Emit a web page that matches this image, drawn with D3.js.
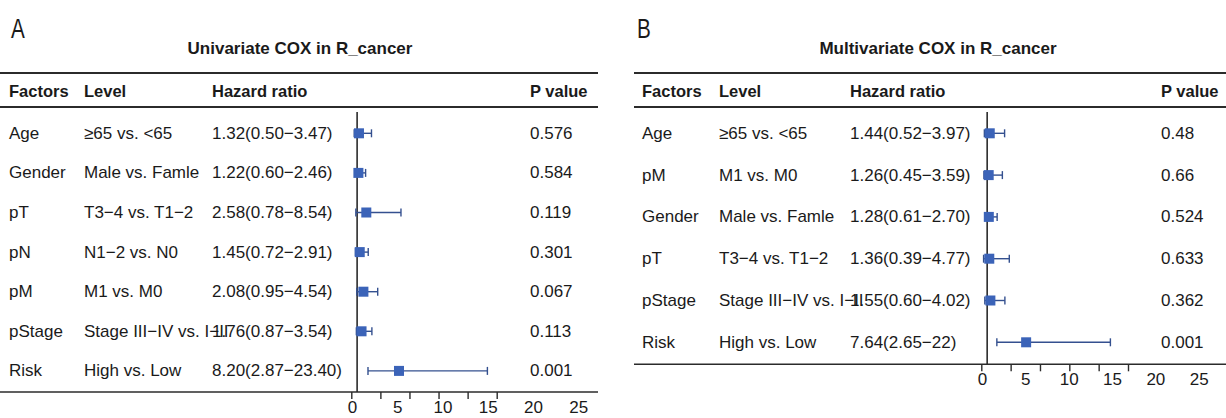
<!DOCTYPE html>
<html>
<head>
<meta charset="utf-8">
<script src="https://cdn.jsdelivr.net/npm/d3@7"></script>
<style>
  html, body { margin: 0; padding: 0; background: #ffffff; }
  svg { display: block; }
  text { font-family: "Liberation Sans", Arial, Helvetica, sans-serif; fill: #1a1a1a; }
</style>
</head>
<body>
<svg id="chart" width="1226" height="418"></svg>
<script>
// ---- Univariate Cox model ----
const factorsA = ["Age", "Gender", "pT", "pN", "pM", "pStage", "Risk"];
const levelsA  = ["≥65 vs. <65", "Male vs. Famle", "T3−4 vs. T1−2", "N1−2 vs. N0", "M1 vs. M0", "Stage III−IV vs. I−II", "High vs. Low"];
const hrA      = [1.32, 1.22, 2.58, 1.45, 2.08, 1.76, 8.20];
const lowA     = [0.50, 0.60, 0.78, 0.72, 0.95, 0.87, 2.87];
const highA    = [3.47, 2.46, 8.54, 2.91, 4.54, 3.54, 23.40];
const pA       = ["0.576", "0.584", "0.119", "0.301", "0.067", "0.113", "0.001"];

// ---- Multivariate Cox model ----
const factorsB = ["Age", "pM", "Gender", "pT", "pStage", "Risk"];
const levelsB  = ["≥65 vs. <65", "M1 vs. M0", "Male vs. Famle", "T3−4 vs. T1−2", "Stage III−IV vs. I−II", "High vs. Low"];
const hrB      = [1.44, 1.26, 1.28, 1.36, 1.55, 7.64];
const lowB     = [0.52, 0.45, 0.61, 0.39, 0.60, 2.65];
const highB    = [3.97, 3.59, 2.70, 4.77, 4.02, 22];
const pB       = ["0.48", "0.66", "0.524", "0.633", "0.362", "0.001"];

// x-axis ticks (hazard ratio)
const axisTicks = [0, 5, 10, 15, 20, 25];

const svg = d3.select("#chart");
const BOX = "#3b63b8";
const WHISK = "#34508f";
const RULE = "#2b2b2b";

const fmt = v => Number.isInteger(v) ? String(v) : v.toFixed(2);

function forest(cfg) {
  const g = svg.append("g");
  const n = cfg.factors.length;

  // panel letter (condensed)
  g.append("text")
    .attr("transform", `translate(${cfg.letterX},38) scale(0.74,1)`)
    .style("font-size", "28px")
    .text(cfg.letter);

  // title
  g.append("text")
    .attr("x", cfg.titleX).attr("y", 48)
    .attr("text-anchor", "middle").attr("dominant-baseline", "central")
    .style("font-weight", "bold").style("font-size", "17px")
    .text(cfg.title);

  // header rules
  [73, 107].forEach(yy => g.append("line")
    .attr("x1", cfg.x0).attr("x2", cfg.x1).attr("y1", yy).attr("y2", yy)
    .attr("stroke", RULE).attr("stroke-width", 2));

  // header
  const head = [["Factors", cfg.cols[0]], ["Level", cfg.cols[1]], ["Hazard ratio", cfg.cols[2]], ["P value", cfg.cols[3]]];
  g.selectAll(null).data(head).join("text")
    .attr("x", d => d[1]).attr("y", 91)
    .attr("dominant-baseline", "central")
    .style("font-weight", "bold").style("font-size", "16.5px")
    .text(d => d[0]);

  // rows
  const y = d3.scalePoint().domain(d3.range(n)).range([cfg.rowTop, cfg.rowBottom]);
  const x = d3.scaleLinear().domain([0, 25]).range(cfg.xRange);
  const xLab = d3.scaleLinear().domain([0, 25]).range(cfg.labRange);

  const rows = d3.range(n).map(i => ({
    f: cfg.factors[i], l: cfg.levels[i], hr: cfg.hr[i], lo: cfg.low[i], hi: cfg.high[i], p: cfg.p[i], i
  }));

  const rowText = (acc, col) => g.selectAll(null).data(rows).join("text")
    .attr("x", col).attr("y", d => y(d.i))
    .attr("dominant-baseline", "central")
    .style("font-size", "17px")
    .text(acc);

  rowText(d => d.f, cfg.cols[0]);
  rowText(d => d.l, cfg.cols[1]);
  rowText(d => `${fmt(d.hr)}(${fmt(d.lo)}−${fmt(d.hi)})`, cfg.cols[2]);
  rowText(d => d.p, cfg.cols[3]);

  // reference line at HR = 1
  g.append("line")
    .attr("x1", x(1)).attr("x2", x(1)).attr("y1", 112).attr("y2", cfg.axisY)
    .attr("stroke", RULE).attr("stroke-width", 1.6);

  // confidence intervals
  g.selectAll(null).data(rows).join("line")
    .attr("x1", d => x(d.lo)).attr("x2", d => x(d.hi))
    .attr("y1", d => y(d.i)).attr("y2", d => y(d.i))
    .attr("stroke", WHISK).attr("stroke-width", 1.4);
  ["lo", "hi"].forEach(k => g.selectAll(null).data(rows).join("line")
    .attr("x1", d => x(d[k])).attr("x2", d => x(d[k]))
    .attr("y1", d => y(d.i) - 4).attr("y2", d => y(d.i) + 4)
    .attr("stroke", WHISK).attr("stroke-width", 1.4));

  // point estimates
  g.selectAll(null).data(rows).join("rect")
    .attr("x", d => x(d.hr) - 5).attr("y", d => y(d.i) - 5)
    .attr("width", 10).attr("height", 10)
    .attr("fill", BOX);

  // bottom rule
  g.append("line")
    .attr("x1", cfg.x0).attr("x2", cfg.x1).attr("y1", cfg.axisY).attr("y2", cfg.axisY)
    .attr("stroke", RULE).attr("stroke-width", 1.6);

  // tick marks
  const ax = g.append("g").attr("transform", `translate(0,${cfg.axisY})`)
    .call(d3.axisBottom(x).tickValues(axisTicks).tickFormat("").tickSize(7));
  ax.select(".domain").remove();
  ax.selectAll(".tick line").attr("stroke", RULE).attr("stroke-width", 1.4);

  // tick labels
  const lab = g.append("g").attr("transform", `translate(0,${cfg.axisY})`)
    .call(d3.axisBottom(xLab).tickValues(axisTicks).tickSize(0).tickPadding(cfg.labPad));
  lab.select(".domain").remove();
  lab.selectAll("text")
    .style("font-family", "'Liberation Sans', Arial, sans-serif")
    .style("font-size", "17px").attr("fill", "#1a1a1a");
}

forest({
  letter: "A", letterX: 11, title: "Univariate COX in R_cancer", titleX: 300,
  x0: 0, x1: 598, cols: [9, 84, 212, 530],
  factors: factorsA, levels: levelsA, hr: hrA, low: lowA, high: highA, p: pA,
  rowTop: 133.3, rowBottom: 370.9, axisY: 392,
  xRange: [351.3, 496.7], labRange: [352, 578.3], labPad: 9
});

forest({
  letter: "B", letterX: 637, title: "Multivariate COX in R_cancer", titleX: 938,
  x0: 634, x1: 1226, cols: [642, 719, 850, 1161],
  factors: factorsB, levels: levelsB, hr: hrB, low: lowB, high: highB, p: pB,
  rowTop: 133.3, rowBottom: 342.3, axisY: 364.3,
  xRange: [981.3, 1128], labRange: [982, 1198.7], labPad: 9
});
</script>
</body>
</html>
